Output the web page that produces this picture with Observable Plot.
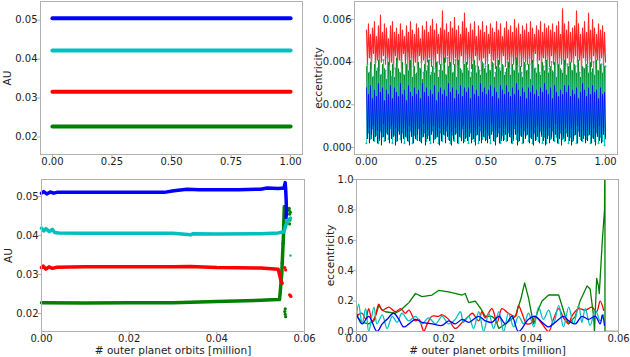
<!DOCTYPE html>
<html><head><meta charset="utf-8">
<script src="https://cdn.jsdelivr.net/npm/d3@7"></script>
<script src="https://cdn.jsdelivr.net/npm/@observablehq/plot@0.6"></script>
<style>
body{margin:0;background:#fff;}
#fig{position:relative;width:630px;height:357px;overflow:hidden;font-family:"DejaVu Sans";}
.p{position:absolute;}
</style></head><body><div id="fig"></div>
<script>
// ---------- colours (matplotlib b, c, r, g) ----------
const cBlue = "#0000ff", cCyan = "#00bfbf", cRed = "#ff0000", cGreen = "#008000";

// ---------- top-left: semi-major axis (AU) vs time fraction ----------
const tlX = [0, 1];
const tlBlue = 0.0505, tlCyan = 0.0422, tlRed = 0.0316, tlGreen = 0.0227;
const tlXTicks = [0, 0.25, 0.5, 0.75, 1.0];
const aYTicks = [0.02, 0.03, 0.04, 0.05];

// ---------- top-right: eccentricity (in units of 1e-3), evenly sampled over 0..1 ----------
const eccUnit = 1e-3;
const trRed = [
5.5,3.9,5.8,4.2,5.3,3.7,5.6,4.4,5.9,3.8,5.2,4.1,5.7,3.6,6.2,4.0,5.4,4.3,5.8,3.9,
5.6,4.2,5.1,3.8,5.7,4.0,5.9,3.5,5.4,4.3,5.6,3.9,5.3,4.1,5.8,3.7,5.5,4.4,5.2,3.9,
5.7,4.1,5.4,3.6,5.9,4.2,5.5,3.8,5.3,4.0,5.8,3.7,5.6,4.3,5.1,3.9,5.7,4.1,5.5,3.6,
5.9,4.0,5.4,4.2,5.7,3.8,6.0,4.1,5.5,3.7,5.8,4.4,5.3,3.9,5.6,4.2,6.4,3.8,5.5,4.0,
5.8,4.3,5.4,3.7,5.9,4.1,5.6,3.9,6.1,4.2,5.5,3.6,5.7,4.0,5.3,4.3,5.9,3.8,6.3,4.1,
5.6,3.9,5.4,4.2,5.8,3.7,5.5,4.0,5.9,4.3,5.2,3.8,5.7,4.1,5.5,3.6,5.9,4.2,5.4,3.9,
5.7,4.0,5.3,4.4,5.8,3.8,5.6,4.1,5.4,3.7,5.9,4.2,5.5,3.9,5.8,4.0,5.2,4.3,5.6,3.8,
5.9,4.1,5.5,3.7,5.7,4.2,5.4,3.9,6.0,4.0,5.6,3.6,5.8,4.3,5.3,3.8,5.7,4.1,5.5,4.0,
5.8,3.9,5.4,4.2,5.9,3.7,5.6,4.0,5.3,4.4,5.7,3.8,5.5,4.1,5.9,3.6,5.4,4.2,5.8,4.0,
5.6,4.1,5.7,3.8,5.5,4.3,5.8,3.9,5.4,4.0,5.7,3.7,5.9,4.2,5.3,3.9,6.5,4.1,5.8,3.8,
5.5,4.2,5.9,3.7,5.4,4.0,5.6,3.9,5.7,4.3,6.4,3.8,5.8,4.1,5.3,3.6,5.6,4.2,5.9,4.0,
5.4,3.9,6.3,4.1,5.5,3.8,6.0,4.3,5.6,3.7,5.3,4.1,5.8,3.9,5.5,4.2,5.7,3.8,5.4,4.0];
const trGreen = [
3.8,0.6,3.5,0.9,4.0,0.4,3.3,1.0,3.9,0.5,3.6,0.8,4.1,0.3,3.4,0.7,3.9,1.1,3.7,0.5,
3.2,0.8,4.0,0.4,3.6,1.0,3.9,0.6,3.3,0.9,4.2,0.5,3.7,0.7,3.5,0.3,4.0,0.9,3.4,0.6,
3.9,0.4,3.6,1.0,4.1,0.7,3.3,0.5,3.8,0.8,3.5,0.3,4.0,0.9,3.7,0.6,3.2,1.1,3.9,0.5,
3.6,0.8,4.1,0.4,3.4,0.7,3.8,1.0,3.5,0.5,4.0,0.6,3.3,0.9,3.9,0.4,3.6,0.8,4.2,0.6,
3.4,1.0,3.8,0.5,4.0,0.7,3.5,0.3,3.9,0.9,3.3,0.6,4.1,0.8,3.7,0.4,3.5,1.0,3.9,0.6,
4.0,0.5,3.6,0.9,3.3,0.7,3.9,0.4,4.1,0.8,3.5,0.6,3.8,1.0,3.4,0.5,4.0,0.7,3.7,0.8,
3.5,0.7,3.9,0.4,3.6,1.1,4.0,0.6,3.3,0.8,3.8,0.5,4.1,0.9,3.6,0.3,3.9,0.7,3.4,1.0,
3.7,0.5,4.0,0.8,3.4,0.6,3.9,0.3,3.6,1.0,4.2,0.7,3.5,0.4,3.8,0.9,3.3,0.6,4.0,0.5,
3.6,0.9,3.9,0.5,3.2,0.8,4.1,0.6,3.7,0.4,3.5,1.0,3.9,0.7,3.4,0.5,4.0,0.8,3.6,0.3,
4.1,0.6,3.5,0.9,3.8,0.4,3.6,0.7,4.0,1.1,3.3,0.5,3.9,0.8,3.7,0.6,3.5,0.4,4.1,0.9,
3.4,0.7,3.8,0.5,4.0,0.9,3.6,0.3,3.9,0.6,3.5,1.0,4.1,0.7,3.3,0.5,3.8,0.8,3.7,0.4,
3.9,0.8,3.5,0.6,4.0,0.4,3.7,0.9,3.4,0.5,4.1,0.7,3.6,1.0,3.9,0.6,3.5,0.8,3.8,0.5];
const trCyan = [
0.2,3.9,0.7,3.5,0.4,4.2,0.9,3.3,0.3,4.0,0.6,3.7,0.2,4.3,0.8,3.4,0.5,4.1,0.3,3.6,
0.7,4.2,0.4,3.8,0.9,3.3,0.2,4.4,0.6,3.7,0.3,4.0,0.8,3.5,0.4,4.1,0.7,3.4,0.2,3.9,
0.5,4.4,0.3,3.6,0.8,4.2,0.2,3.8,0.6,3.4,0.4,4.3,0.9,3.7,0.3,4.0,0.5,3.5,0.7,4.2,
0.3,3.8,0.6,4.1,0.2,3.5,0.8,4.3,0.4,3.7,0.5,4.0,0.2,3.6,0.7,4.4,0.3,3.9,0.6,3.4,
0.8,4.2,0.4,3.7,0.2,4.4,0.6,3.5,0.3,4.1,0.7,3.8,0.2,4.3,0.5,3.6,0.9,4.0,0.3,4.4,
0.5,3.7,0.2,4.2,0.7,3.5,0.4,4.1,0.3,3.8,0.6,4.3,0.2,3.6,0.8,4.0,0.4,3.9,0.5,3.8,
0.4,4.1,0.6,3.6,0.2,4.3,0.8,3.9,0.3,3.5,0.5,4.2,0.7,3.7,0.2,4.4,0.6,3.8,0.4,3.5,
0.3,4.0,0.7,3.7,0.5,4.3,0.2,3.6,0.9,4.1,0.4,3.8,0.3,4.4,0.6,3.5,0.2,4.2,0.8,3.9,
0.6,3.6,0.3,4.2,0.5,3.9,0.2,4.4,0.7,3.7,0.4,4.1,0.3,3.5,0.8,4.3,0.2,3.8,0.5,4.0,
0.2,4.3,0.6,3.7,0.4,4.0,0.8,3.5,0.3,4.4,0.5,3.9,0.2,4.2,0.7,3.6,0.4,4.1,0.3,3.8,
0.7,3.9,0.2,4.4,0.5,3.6,0.3,4.2,0.6,3.8,0.2,4.0,0.8,3.5,0.4,4.3,0.3,3.7,0.6,4.1,
0.4,3.8,0.6,4.2,0.2,3.5,0.5,4.0,0.3,4.4,0.7,3.6,0.2,4.1,0.5,3.9,0.3,4.3,0.1,3.8];
const trBlue = [
2.8,0.4,2.5,0.2,2.9,0.6,2.3,0.3,2.7,0.5,2.4,0.2,3.0,0.4,2.6,0.1,2.8,0.5,2.2,0.3,
2.7,0.6,2.5,0.2,2.9,0.4,2.3,0.5,2.8,0.1,2.6,0.3,2.4,0.6,3.0,0.2,2.5,0.4,2.7,0.5,
2.2,0.3,2.9,0.1,2.6,0.5,2.4,0.2,2.8,0.4,2.5,0.6,2.7,0.3,2.3,0.2,3.0,0.5,2.6,0.1,
2.8,0.4,2.4,0.3,2.7,0.6,2.5,0.2,2.9,0.4,2.2,0.5,2.6,0.1,2.8,0.3,2.5,0.6,2.7,0.2,
2.4,0.5,3.0,0.3,2.6,0.1,2.8,0.4,2.3,0.6,2.7,0.2,2.5,0.5,2.9,0.3,2.4,0.2,2.8,0.4,
2.6,0.3,2.8,0.5,2.3,0.2,2.9,0.4,2.5,0.1,2.7,0.6,2.4,0.3,3.0,0.2,2.6,0.5,2.8,0.3,
2.5,0.2,2.7,0.4,2.9,0.6,2.4,0.3,2.8,0.1,2.6,0.5,2.3,0.2,2.9,0.4,2.7,0.3,2.5,0.6,
2.9,0.3,2.6,0.5,2.4,0.2,2.8,0.4,2.5,0.6,3.0,0.1,2.7,0.3,2.4,0.5,2.8,0.2,2.6,0.4,
2.3,0.6,2.8,0.2,2.6,0.4,2.9,0.1,2.5,0.3,2.7,0.5,2.4,0.2,2.8,0.6,2.6,0.3,3.0,0.1,
2.7,0.4,2.5,0.2,2.8,0.5,2.3,0.3,2.9,0.6,2.6,0.2,2.4,0.4,2.7,0.1,2.5,0.5,2.9,0.3,
2.6,0.5,2.9,0.3,2.4,0.1,2.7,0.4,2.5,0.6,2.8,0.2,2.3,0.5,2.6,0.3,3.0,0.4,2.7,0.2,
2.4,0.3,2.8,0.6,2.5,0.2,2.9,0.4,2.6,0.1,2.7,0.5,2.3,0.3,2.8,0.2,2.5,0.6,2.6,0.4];
const trYTicks = [0, 0.002, 0.004, 0.006];

// ---------- bottom-left: semi-major axis (AU) vs orbits [million] ----------
const blBlue = [[0,0.0509],[0.0005,0.0513],[0.0012,0.0507],[0.002,0.0512],[0.0028,0.0509],[0.0035,0.0511],[0.01,0.0511],[0.02,0.0511],[0.028,0.0511],[0.0302,0.0515],[0.0332,0.0519],[0.036,0.0518],[0.045,0.0518],[0.05,0.0519],[0.0515,0.0522],[0.054,0.0521],[0.0553,0.0522],[0.0556,0.0536],[0.0557,0.0520],[0.0558,0.0495],[0.0559,0.0462],[0.0558,0.0447]];
const blCyan = [[0,0.0419],[0.0005,0.0412],[0.001,0.0418],[0.0018,0.0410],[0.0025,0.0416],[0.003,0.0408],[0.004,0.0407],[0.01,0.0406],[0.02,0.0406],[0.03,0.0406],[0.034,0.0402],[0.0345,0.0405],[0.04,0.0404],[0.05,0.0405],[0.054,0.0407],[0.0553,0.0410],[0.0557,0.0425],[0.0562,0.0440],[0.0568,0.0445]];
const blRed = [[0,0.0318],[0.0004,0.0322],[0.001,0.0314],[0.0017,0.0320],[0.0025,0.0316],[0.0035,0.0319],[0.01,0.0320],[0.02,0.0320],[0.03,0.0320],[0.034,0.0321],[0.04,0.0318],[0.05,0.0317],[0.054,0.0314],[0.0543,0.0300],[0.0546,0.0285],[0.0549,0.0278]];
const blGreen = [[0,0.0228],[0.01,0.0227],[0.02,0.0228],[0.03,0.0228],[0.04,0.0231],[0.05,0.0234],[0.054,0.0236],[0.0543,0.0236],[0.0545,0.0260],[0.0548,0.0300],[0.0550,0.0350],[0.0552,0.0400],[0.0553,0.0440],[0.0554,0.0475]];
const blCyanDots = [[0.0568,0.0349]];
const blRedDots = [[0.0555,0.0318],[0.0557,0.0312],[0.0566,0.0248],[0.0568,0.0246],[0.0569,0.0244]];
const blGreenDots = [[0.0555,0.0205],[0.0556,0.0198],[0.0557,0.0192],[0.0556,0.0212],[0.0565,0.0465],[0.0566,0.0455],[0.0567,0.0440],[0.0566,0.0430],[0.0568,0.0460],[0.0565,0.0470],[0.0551,0.0380],[0.0549,0.0330]];
const bXTicks = [0, 0.02, 0.04, 0.06];

// ---------- bottom-right: eccentricity vs orbits [million] ----------
const brGreen = [[0,0.10],[0.0013,0.06],[0.0028,0.05],[0.0040,0.07],[0.0051,0.17],[0.0059,0.14],[0.0066,0.13],[0.0089,0.12],[0.0101,0.14],[0.0112,0.17],[0.0120,0.19],[0.0135,0.25],[0.0150,0.23],[0.0173,0.24],[0.0188,0.27],[0.0211,0.26],[0.0242,0.24],[0.0249,0.25],[0.0257,0.19],[0.0272,0.20],[0.0287,0.14],[0.0295,0.10],[0.0310,0.10],[0.0318,0.08],[0.0326,0.02],[0.0341,0.05],[0.0364,0.10],[0.0377,0.22],[0.0385,0.32],[0.0394,0.22],[0.0402,0.10],[0.0406,0.05],[0.0417,0.15],[0.0425,0.20],[0.0440,0.24],[0.0463,0.24],[0.0478,0.10],[0.0486,0.05],[0.0501,0.10],[0.0512,0.20],[0.0528,0.30],[0.0535,0.28],[0.0543,0.10],[0.0545,0.00],[0.0550,0.35],[0.0554,0.30],[0.0556,0.25],[0.0560,0.45],[0.0563,0.60],[0.0566,0.72],[0.0568,0.80],[0.0569,1.2],[0.0569,0],[0.0600,0]];
const brRed = [[0,0.10],[0.0013,0.12],[0.0021,0.08],[0.0028,0.15],[0.0036,0.07],[0.0043,0.10],[0.0051,0.18],[0.0059,0.14],[0.0074,0.16],[0.0089,0.13],[0.0101,0.15],[0.0112,0.12],[0.0120,0.14],[0.0135,0.07],[0.0143,0.08],[0.0150,0.03],[0.0154,0.00],[0.0162,0.05],[0.0173,0.10],[0.0188,0.10],[0.0196,0.11],[0.0211,0.08],[0.0226,0.02],[0.0242,0.06],[0.0257,0.10],[0.0265,0.12],[0.0280,0.07],[0.0287,0.13],[0.0295,0.09],[0.0310,0.15],[0.0322,0.06],[0.0333,0.15],[0.0348,0.12],[0.0364,0.10],[0.0371,0.17],[0.0379,0.12],[0.0390,0.05],[0.0402,0.06],[0.0409,0.10],[0.0425,0.05],[0.0440,0.00],[0.0451,0.08],[0.0463,0.15],[0.0474,0.09],[0.0486,0.05],[0.0493,0.10],[0.0509,0.15],[0.0524,0.14],[0.0539,0.16],[0.0550,0.13],[0.0558,0.20],[0.0566,0.14]];
const brCyan = [[0,0.11],[0.0005,0.18],[0.0013,0.05],[0.0021,0.15],[0.0028,0.00],[0.0040,0.16],[0.0047,0.05],[0.0059,0.11],[0.0070,0.02],[0.0082,0.10],[0.0093,0.06],[0.0104,0.12],[0.0120,0.07],[0.0135,0.10],[0.0150,0.05],[0.0165,0.09],[0.0181,0.05],[0.0196,0.10],[0.0211,0.05],[0.0226,0.08],[0.0238,0.13],[0.0245,0.06],[0.0257,0.10],[0.0268,0.02],[0.0280,0.13],[0.0291,0.00],[0.0303,0.12],[0.0314,0.02],[0.0326,0.13],[0.0337,0.00],[0.0348,0.12],[0.0360,0.03],[0.0371,0.10],[0.0383,0.05],[0.0394,0.12],[0.0406,0.03],[0.0417,0.16],[0.0428,0.08],[0.0440,0.14],[0.0451,0.05],[0.0463,0.17],[0.0474,0.03],[0.0486,0.16],[0.0497,0.05],[0.0509,0.17],[0.0516,0.06],[0.0524,0.15],[0.0535,0.04],[0.0547,0.14],[0.0558,0.07],[0.0566,0.11]];
const brBlue = [[0,0.12],[0.0013,0.05],[0.0028,0.10],[0.0047,0.00],[0.0059,0.05],[0.0070,0.08],[0.0085,0.12],[0.0097,0.08],[0.0108,0.03],[0.0120,0.05],[0.0135,0.08],[0.0150,0.06],[0.0173,0.05],[0.0196,0.04],[0.0211,0.07],[0.0226,0.05],[0.0242,0.08],[0.0257,0.06],[0.0280,0.10],[0.0295,0.07],[0.0310,0.06],[0.0326,0.10],[0.0341,0.05],[0.0356,0.10],[0.0371,0.00],[0.0394,0.08],[0.0409,0.10],[0.0425,0.06],[0.0440,0.03],[0.0455,0.06],[0.0474,0.10],[0.0486,0.07],[0.0501,0.05],[0.0516,0.10],[0.0531,0.08],[0.0547,0.10],[0.0558,0.05],[0.0563,0.11],[0.0568,0.04]];
const brYTicks = [0, 0.2, 0.4, 0.6, 0.8, 1.0];

const xLabel = "# outer planet orbits [million]";

// ---------- helpers ----------
const fig = document.getElementById("fig");
const frameColor = "#b0b0b0", textColor = "#222";
function place(svg, left, top) {
  const d = document.createElement("div");
  d.className = "p"; d.style.left = left + "px"; d.style.top = top + "px";
  d.appendChild(svg); fig.appendChild(d);
}
const baseStyle = {fontFamily: "DejaVu Sans", fontSize: "10px", overflow: "visible", background: "transparent", color: textColor};
function axes(xt, xf, xpad, yt, yf, ylab, ylabDx, xlab, xlabDy) {
  const m = [
    Plot.frame({stroke: frameColor, strokeWidth: 1}),
    Plot.axisX(xt, {tickSize: 3, tickPadding: xpad, stroke: frameColor, fill: textColor, tickFormat: d3.format(xf), label: null, fontSize: 10}),
    Plot.axisY(yt, {tickSize: 3, tickPadding: 0, stroke: frameColor, fill: textColor, tickFormat: d3.format(yf), label: null, fontSize: 10}),
    Plot.text([ylab], {frameAnchor: "left", dx: ylabDx, rotate: -90, textAnchor: "middle", lineAnchor: "middle", fontSize: 10.5, fill: textColor})
  ];
  if (xlab) m.push(Plot.text([xlab], {frameAnchor: "bottom", dy: xlabDy, textAnchor: "middle", lineAnchor: "middle", fontSize: 10.5, fill: textColor}));
  return m;
}
const idx = (arr) => arr.map((v, i) => [i / (arr.length - 1), v * eccUnit]);

// ---------- top-left ----------
const flat = (v) => tlX.map(x => [x, v]);
place(Plot.plot({
  width: 315, height: 178, marginLeft: 40, marginRight: 13, marginTop: 1, marginBottom: 24,
  style: baseStyle,
  x: {domain: [-0.05, 1.05]}, y: {domain: [0.0155, 0.0548]},
  marks: [
    Plot.line(flat(tlBlue), {stroke: cBlue, strokeWidth: 4}),
    Plot.line(flat(tlCyan), {stroke: cCyan, strokeWidth: 4}),
    Plot.line(flat(tlRed), {stroke: cRed, strokeWidth: 4}),
    Plot.line(flat(tlGreen), {stroke: cGreen, strokeWidth: 4}),
    ...axes(tlXTicks, ".2f", 0, aYTicks, ".2f", "AU", -33)
  ]
}), 0, 0);

// ---------- top-right ----------
const cyanPts = idx(trCyan);
place(Plot.plot({
  width: 315, height: 178, marginLeft: 39, marginRight: 13, marginTop: 1, marginBottom: 24,
  style: baseStyle,
  x: {domain: [-0.05, 1.05]}, y: {domain: [-0.00033, 0.00684]},
  marks: [
    Plot.line(idx(trRed), {stroke: cRed, strokeWidth: 1.1, strokeOpacity: 0.85}),
    Plot.line(idx(trGreen), {stroke: cGreen, strokeWidth: 1, strokeOpacity: 0.8}),
    Plot.line(cyanPts, {stroke: cCyan, strokeWidth: 1, strokeOpacity: 0.75}),
    Plot.dot(cyanPts, {r: 1, fill: cCyan, stroke: null}),
    Plot.line(idx(trBlue), {stroke: cBlue, strokeWidth: 1, strokeOpacity: 0.75}),
    ...axes(tlXTicks, ".2f", 0, trYTicks, ".3f", "eccentricity", -36)
  ]
}), 315, 0);

// ---------- bottom-left ----------
place(Plot.plot({
  width: 315, height: 179, marginLeft: 41, marginRight: 11, marginTop: 1, marginBottom: 26,
  style: baseStyle,
  x: {domain: [0, 0.06]}, y: {domain: [0.0154, 0.0544]},
  marks: [
    Plot.line(blGreen, {stroke: cGreen, strokeWidth: 3.5}),
    Plot.dot(blGreenDots, {r: 1.6, fill: cGreen, stroke: null}),
    Plot.line(blRed, {stroke: cRed, strokeWidth: 3.5}),
    Plot.dot(blRedDots, {r: 1.6, fill: cRed, stroke: null}),
    Plot.line(blCyan, {stroke: cCyan, strokeWidth: 3.5}),
    Plot.dot(blCyanDots, {r: 1.3, fill: cCyan, stroke: null}),
    Plot.line(blBlue, {stroke: cBlue, strokeWidth: 3.5}),
    ...axes(bXTicks, ".2f", 0, aYTicks, ".2f", "AU", -33, xLabel, 19.5)
  ]
}), 0, 178);

// ---------- bottom-right ----------
place(Plot.plot({
  width: 315, height: 179, marginLeft: 41, marginRight: 12, marginTop: 1, marginBottom: 26,
  style: baseStyle,
  x: {domain: [0, 0.06]}, y: {domain: [0, 1]},
  marks: [
    Plot.line(brGreen, {stroke: cGreen, strokeWidth: 1.3, clip: true}),
    Plot.line(brRed, {stroke: cRed, strokeWidth: 1.3, curve: "catmull-rom"}),
    Plot.line(brCyan, {stroke: cCyan, strokeWidth: 1.3, curve: "catmull-rom"}),
    Plot.line(brBlue, {stroke: cBlue, strokeWidth: 1.3, curve: "catmull-rom"}),
    ...axes(bXTicks, ".2f", 0, brYTicks, ".1f", "eccentricity", -26, xLabel, 19.5)
  ]
}), 315, 178);
</script></body></html>
